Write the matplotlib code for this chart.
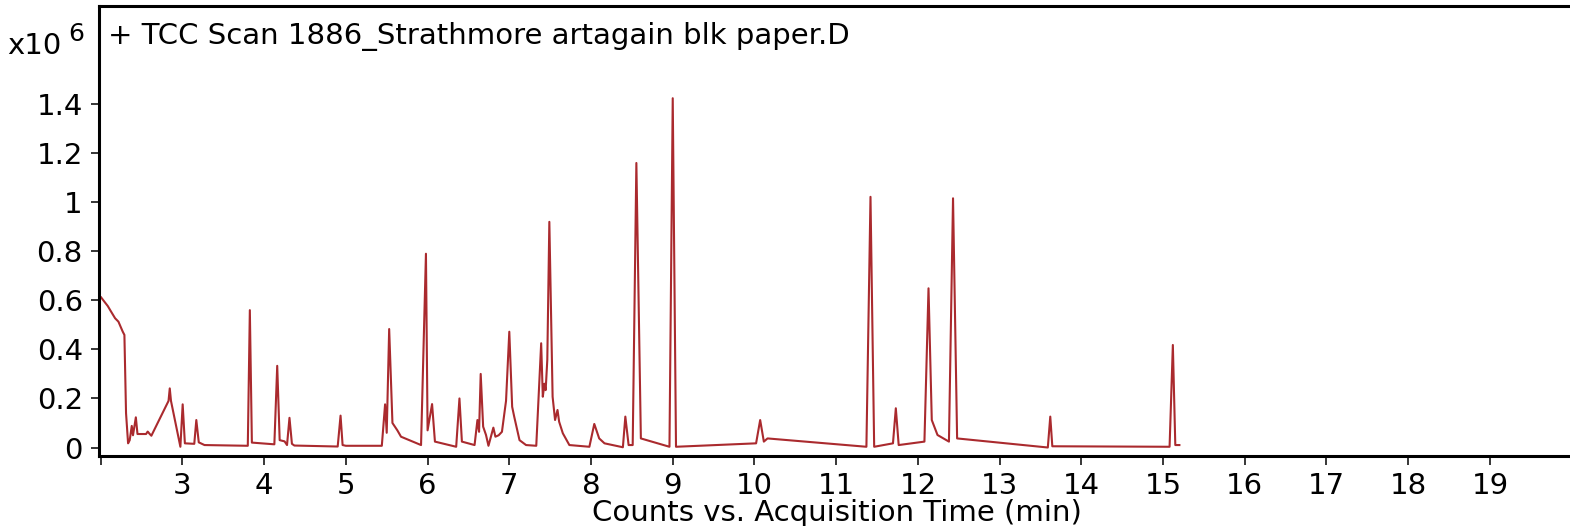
import matplotlib
matplotlib.use("Agg")
import matplotlib.pyplot as plt
from matplotlib.ticker import FixedLocator, FuncFormatter

# Acquisition time (min) and counts (x10^6)
time_min = [
    2.005, 2.037, 2.086, 2.127, 2.176, 2.217, 2.27, 2.29, 2.31, 2.335,
    2.355, 2.38, 2.395, 2.43, 2.45, 2.555, 2.575, 2.60, 2.62, 2.83,
    2.845, 2.86, 2.975, 3.003, 3.03, 3.145, 3.17, 3.20, 3.27, 3.80,
    3.825, 3.85, 4.125, 4.16, 4.19, 4.25, 4.28, 4.31, 4.34, 4.37,
    4.90, 4.935, 4.96, 5.00, 5.44, 5.48, 5.50, 5.53, 5.57, 5.63,
    5.675, 5.92, 5.98, 6.00, 6.055, 6.09, 6.35, 6.39, 6.42, 6.575,
    6.61, 6.63, 6.65, 6.68, 6.715, 6.745, 6.805, 6.83, 6.87, 6.91,
    6.94, 6.96, 7.00, 7.035, 7.06, 7.125, 7.205, 7.33, 7.39, 7.41,
    7.43, 7.445, 7.465, 7.49, 7.53, 7.56, 7.59, 7.61, 7.655, 7.735,
    7.98, 8.04, 8.10, 8.165, 8.39, 8.42, 8.46, 8.51, 8.555, 8.61,
    8.96, 9.00, 9.04, 10.02, 10.07, 10.115, 10.16, 11.37, 11.42, 11.465,
    11.695, 11.73, 11.765, 12.08, 12.13, 12.17, 12.24, 12.38, 12.43, 12.48,
    13.59, 13.62, 13.645, 15.08, 15.12, 15.15, 15.20,
]
counts_1e6 = [
    0.612, 0.598, 0.577, 0.554, 0.527, 0.513, 0.472, 0.459, 0.14, 0.017,
    0.03, 0.088, 0.05, 0.123, 0.055, 0.055, 0.065, 0.055, 0.048, 0.19,
    0.241, 0.19, 0.003, 0.176, 0.017, 0.015, 0.112, 0.021, 0.01, 0.007,
    0.56, 0.02, 0.013, 0.333, 0.03, 0.025, 0.01, 0.121, 0.015, 0.008,
    0.004, 0.13, 0.01, 0.007, 0.007, 0.176, 0.06, 0.483, 0.10, 0.07,
    0.044, 0.01, 0.79, 0.07, 0.177, 0.024, 0.003, 0.20, 0.024, 0.01,
    0.112, 0.064, 0.30, 0.085, 0.051, 0.007, 0.081, 0.044, 0.05, 0.064,
    0.14, 0.19, 0.472, 0.166, 0.126, 0.03, 0.01, 0.007, 0.425, 0.207,
    0.26, 0.234, 0.357, 0.92, 0.207, 0.112, 0.153, 0.105, 0.058, 0.01,
    0.003, 0.096, 0.037, 0.017, 0.001, 0.126, 0.01, 0.01, 1.16, 0.037,
    0.003, 1.424, 0.003, 0.017, 0.112, 0.024, 0.037, 0.003, 1.022, 0.003,
    0.017, 0.16, 0.01, 0.024, 0.649, 0.112, 0.051, 0.024, 1.016, 0.037,
    0.0, 0.126, 0.005, 0.003, 0.418, 0.01, 0.01,
]

x_ticks = list(range(2, 20))
y_ticks = [0, 0.2, 0.4, 0.6, 0.8, 1.0, 1.2, 1.4]

title_text = "+ TCC Scan 1886_Strathmore artagain blk paper.D"
x_label = "Counts vs. Acquisition Time (min)"

plt.rcParams['font.family'] = ['DejaVu Sans']

W, H = 1570, 526
FS = 21
fig = plt.figure(figsize=(W / 100, H / 100), dpi=100)
ax_left = 98.5 / W
ax_bottom = (H - 455.5) / H
ax_top = (H - 6) / H
ax = fig.add_axes([ax_left, ax_bottom, 1 - ax_left, ax_top - ax_bottom])

ax.plot(time_min, counts_1e6, color='#aa2a2e', lw=1.5, solid_joinstyle='round')

ax.set_xlim(1.973, 19.98)
ax.set_ylim(-0.0326, 1.80)

ax.xaxis.set_major_locator(FixedLocator(x_ticks))
ax.xaxis.set_major_formatter(FuncFormatter(lambda v, p: "" if round(v) == 2 else f"{int(round(v))}"))
ax.yaxis.set_major_locator(FixedLocator(y_ticks))
ax.yaxis.set_major_formatter(FuncFormatter(lambda v, p: f"{v:g}"))

for s in ['left', 'bottom', 'top']:
    ax.spines[s].set_linewidth(2.2)
    ax.spines[s].set_color('black')
ax.spines['right'].set_visible(False)

ax.tick_params(axis='x', direction='out', length=6.8, width=1.1, pad=5, labelsize=FS, colors='black')
ax.tick_params(axis='y', direction='out', length=5.8, width=1.1, pad=5.5, labelsize=FS, colors='black')

fig.text(108 / W, 1 - 44 / H, title_text, fontsize=FS, va='baseline', ha='left')
fig.text(7 / W, 1 - 54 / H, "x10", fontsize=FS, va='baseline', ha='left')
fig.text(68 / W, 1 - 41 / H, "6", fontsize=18, va='baseline', ha='left')
fig.text(837 / W, 1 - 521 / H, x_label, fontsize=FS, va='baseline', ha='center')

fig.savefig("out.png", dpi=100)
